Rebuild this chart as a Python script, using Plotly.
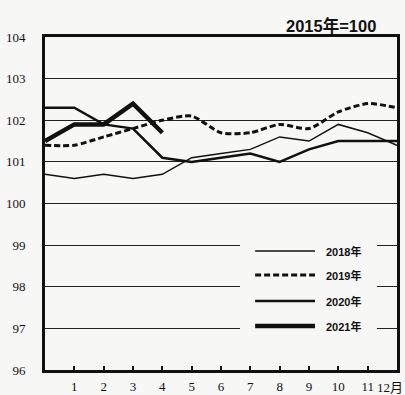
import plotly.graph_objects as go

# ---- data ----
month_pos = [0, 1, 2, 3, 4, 5, 6, 7, 8, 9, 10, 11, 12]
tick_vals = [1, 2, 3, 4, 5, 6, 7, 8, 9, 10, 11]
tick_text = ["1", "2", "3", "4", "5", "6", "7", "8", "9", "10", "11"]
y_ticks = [96, 97, 98, 99, 100, 101, 102, 103, 104]

s2018 = [100.7, 100.6, 100.7, 100.6, 100.7, 101.1, 101.2, 101.3, 101.6, 101.5, 101.9, 101.7, 101.4]
s2019 = [101.4, 101.4, 101.6, 101.8, 102.0, 102.1, 101.7, 101.7, 101.9, 101.8, 102.2, 102.4, 102.3]
s2020 = [102.3, 102.3, 101.9, 101.8, 101.1, 101.0, 101.1, 101.2, 101.0, 101.3, 101.5, 101.5, 101.5]
s2021 = [101.5, 101.9, 101.9, 102.4, 101.7]

names = ["2018年", "2019年", "2020年", "2021年"]
series = [s2018, s2019, s2020, s2021]

BG = "#f7f7f5"
INK = "#111111"
SERIF = "Liberation Serif, Times New Roman, serif"

styles = [
    dict(width=1.5, dash="solid", shape="linear"),
    dict(width=3, dash="6px,3px", shape="spline"),
    dict(width=2.5, dash="solid", shape="linear"),
    dict(width=4.5, dash="solid", shape="linear"),
]

fig = go.Figure()
for name, vals, st in zip(names, series, styles):
    fig.add_trace(go.Scatter(
        x=month_pos[:len(vals)], y=vals, name=name, mode="lines",
        line=dict(color=INK, width=st["width"], dash=st["dash"], shape=st["shape"], smoothing=0.7),
        showlegend=False,
    ))

# custom legend (box masking gridlines + samples + labels)
box = dict(x0=0.554, x1=0.943, y0=0.105, y1=0.396)
fig.add_shape(type="rect", xref="paper", yref="paper", layer="above",
              line=dict(width=0), fillcolor=BG, **box)
leg_y = [0.357, 0.285, 0.207, 0.132]
for name, st, yy in zip(names, styles, leg_y):
    fig.add_shape(type="line", xref="paper", yref="paper", layer="above",
                  x0=0.597, x1=0.767, y0=yy, y1=yy,
                  line=dict(color=INK, width=st["width"], dash=st["dash"]))
    fig.add_annotation(xref="paper", yref="paper", x=0.793, y=yy, text=name,
                       showarrow=False, xanchor="left", yanchor="middle",
                       font=dict(family="Liberation Sans, Noto Sans CJK JP", size=11, color=INK,
                                 weight="bold"))

# title
fig.add_annotation(xref="paper", yref="paper", x=0.945, y=1.0, yshift=12, text="2015年=100",
                   showarrow=False, xanchor="right", yanchor="middle",
                   font=dict(family="Liberation Sans, Noto Sans CJK JP", size=16.5, color=INK,
                             weight="bold"))
# 12月 label
fig.add_annotation(xref="x", yref="paper", x=12, y=0, yshift=-17, xshift=8, text="12月",
                   showarrow=False, xanchor="right", yanchor="middle",
                   font=dict(family=SERIF + ", Noto Sans CJK JP", size=13, color=INK))

fig.update_layout(
    width=405, height=395,
    margin=dict(l=45, r=8, t=37, b=25),
    paper_bgcolor=BG, plot_bgcolor=BG,
    font=dict(family=SERIF, size=13, color=INK),
)
fig.update_xaxes(
    range=[0, 12], tickvals=tick_vals, ticktext=tick_text,
    ticks="inside", ticklen=4, tickwidth=1.5, tickcolor=INK,
    showgrid=False, zeroline=False, automargin=False,
    showline=True, linewidth=3, linecolor=INK, mirror=True,
    ticklabelstandoff=2,
)
fig.update_yaxes(
    range=[96, 104], tickvals=y_ticks,
    ticks="", showgrid=True, gridcolor="#222222", gridwidth=1,
    zeroline=False, automargin=False,
    showline=True, linewidth=3, linecolor=INK, mirror=True,
    ticklabelstandoff=14,
)

fig.write_html("out.html", config={"displayModeBar": False},
               post_script="document.body.style.margin='0';document.body.style.background='%s';" % BG)
